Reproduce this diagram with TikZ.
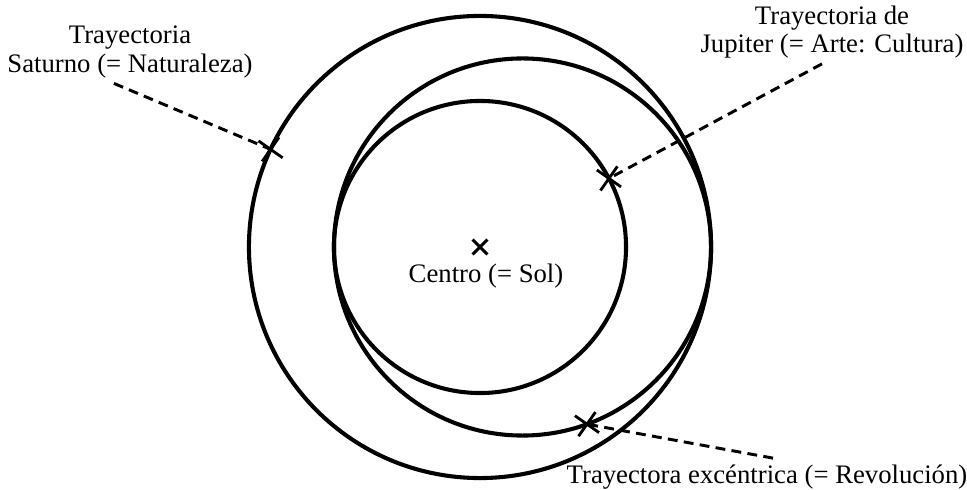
\documentclass[tikz,border=0pt]{standalone}
\usepackage{fontspec}
\setmainfont{Liberation Serif}
\usetikzlibrary{shapes.misc,calc}
\tikzset{
  orbit/.style={circle, draw, line width=2.9pt, inner sep=0pt, outer sep=0pt},
  starmark/.style={cross out, draw, line width=2pt, minimum size=0.45cm,
    inner sep=0pt, rotate=10},
  solmark/.style={cross out, draw, line width=2.1pt, minimum size=0.3cm, inner sep=0pt},
  orbtext/.style={align=center, inner sep=1pt, font=\fontsize{19}{20}\selectfont},
  guide/.style={line width=2.1pt, dash pattern=on 7pt off 4.5pt}
}
\begin{document}
\begin{tikzpicture}[x=0.025cm, y=-0.025cm]
  \useasboundingbox (0,0) rectangle (967,490);
  \coordinate (sun) at (480,247);
  % orbits
  \node[orbit, minimum size=11.55cm] (saturno) at (sun) {};
  \node[orbit, minimum size=7.3cm] (jupiter) at (sun) {};
  \node[orbit, minimum size=9.425cm] (excentrica) at (522.5,247) {};
  % center
  \node[solmark] (sol) at (sun) {};
  \node[orbtext] (centro) at (486,276) {Centro (= Sol)};
  % planets on their paths
  \node[starmark] (satx) at (saturno.155.8) {};
  \node[starmark] (jupx) at (jupiter.28.9) {};
  \node[starmark] (excx) at (excentrica.-70) {};
  % labels
  \node[orbtext] (satlbl) at (130,52) {Trayectoria\\Saturno (= Naturaleza)};
  \node[orbtext] (juplbl) at (832,32) {Trayectoria de\\Jupiter (= Arte: Cultura)};
  \node[orbtext] (exclbl) at (767,477) {Trayectora excéntrica (= Revolución)};
  \draw[guide] ($(satlbl.south)+(-16,4)$) -- (satx.center);
  \draw[guide] ($(juplbl.south)+(-10,4)$) -- (jupx.center);
  \draw[guide] ($(exclbl.north)+(6,-5)$) -- (excx.center);
\end{tikzpicture}
\end{document}
